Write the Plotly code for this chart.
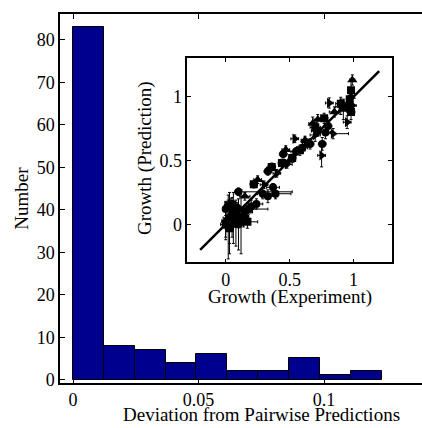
import plotly.graph_objects as go

# ---- histogram data ----
bin_left = [0.0, 0.01229, 0.02458, 0.03687, 0.04916, 0.06145, 0.07374, 0.08603, 0.09832, 0.11061]
bin_width = 0.01229
counts = [83, 8, 7, 4, 6, 2, 2, 5, 1, 2]
main_xticks = [0, 0.05, 0.1]
main_xticklabels = ["0", "0.05", "0.1"]
main_yticks = [0, 10, 20, 30, 40, 50, 60, 70, 80]

# ---- inset data: (experiment, prediction, x error +/-, y error) per marker type ----
circ_x = [0.00, 0.02, 0.05, 0.10, 0.03, 0.07, 0.12, 0.15, 0.18, 0.20, 0.24, 0.29, 0.33, 0.37, 0.39, 0.33, 0.45, 0.55, 0.60, 0.66, 0.755, 0.78, 0.80, 0.72, 0.95, 0.10, 0.02, 0.06, 0.14, 0.09]
circ_y = [0.12, 0.15, 0.16, 0.255, 0.05, 0.08, 0.02, 0.10, 0.12, 0.14, 0.16, 0.24, 0.22, 0.29, 0.24, 0.415, 0.55, 0.57, 0.60, 0.63, 0.63, 0.72, 0.77, 0.73, 0.93, 0.00, -0.02, 0.11, 0.06, 0.13]
circ_exp = [0.02, 0.03, 0.03, 0.42, 0.05, 0.04, 0.05, 0.06, 0.15, 0.04, 0.05, 0.04, 0.05, 0.05, 0.12, 0.03, 0.03, 0.04, 0.04, 0.03, 0.03, 0.04, 0.03, 0.05, 0.03, 0.03, 0.04, 0.03, 0.04, 0.03]
circ_exm = [0.02, 0.03, 0.03, 0.03, 0.05, 0.04, 0.05, 0.06, 0.04, 0.04, 0.05, 0.04, 0.05, 0.05, 0.03, 0.03, 0.03, 0.04, 0.04, 0.03, 0.03, 0.04, 0.03, 0.05, 0.03, 0.03, 0.04, 0.03, 0.04, 0.03]
circ_ey = [0.05, 0.04, 0.05, 0.03, 0.20, 0.10, 0.25, 0.05, 0.04, 0.05, 0.04, 0.04, 0.05, 0.03, 0.04, 0.03, 0.03, 0.03, 0.04, 0.04, 0.05, 0.05, 0.04, 0.04, 0.05, 0.20, 0.25, 0.05, 0.08, 0.04]

tri_x = [0.47, 0.35, 0.68, 0.99, 0.25, 0.15, 0.00, 0.06, 0.72, 0.85, 0.92, 0.50, 0.62, 0.98, 0.04]
tri_y = [0.585, 0.44, 0.79, 1.13, 0.35, 0.22, 0.03, 0.05, 0.82, 0.88, 0.90, 0.50, 0.66, 1.00, 0.08]
tri_exp = [0.03, 0.03, 0.03, 0.02, 0.03, 0.04, 0.03, 0.04, 0.03, 0.04, 0.03, 0.03, 0.03, 0.02, 0.04]
tri_exm = [0.03, 0.03, 0.03, 0.02, 0.03, 0.04, 0.03, 0.04, 0.03, 0.04, 0.03, 0.03, 0.03, 0.02, 0.04]
tri_ey = [0.03, 0.03, 0.05, 0.04, 0.03, 0.03, 0.15, 0.20, 0.04, 0.04, 0.08, 0.03, 0.03, 0.06, 0.12]

rtri_x = [0.54, 0.81, 0.95, 0.84, 0.75, 0.48, 0.40, 0.70, 0.30, 0.12, 0.90, 0.99, 0.63, 0.08]
rtri_y = [0.67, 0.95, 0.80, 0.71, 0.54, 0.47, 0.40, 0.70, 0.31, 0.06, 0.92, 0.93, 0.64, 0.01]
rtri_exp = [0.03, 0.03, 0.03, 0.12, 0.03, 0.04, 0.03, 0.04, 0.03, 0.06, 0.04, 0.03, 0.03, 0.05]
rtri_exm = [0.03, 0.03, 0.03, 0.04, 0.03, 0.04, 0.03, 0.04, 0.03, 0.06, 0.04, 0.03, 0.03, 0.05]
rtri_ey = [0.03, 0.04, 0.05, 0.04, 0.09, 0.03, 0.03, 0.05, 0.03, 0.05, 0.06, 0.05, 0.03, 0.18]

sq_x = [0.22, 0.36, 0.77, 0.90, 0.98, 0.98, 0.00, 0.05, 0.08, 0.58, 0.44, 0.70, 0.52, 0.17, 0.97, 0.03]
sq_y = [0.315, 0.45, 0.83, 0.945, 1.05, 0.88, 0.00, 0.02, 0.04, 0.58, 0.48, 0.76, 0.52, 0.02, 0.98, -0.03]
sq_exp = [0.03, 0.03, 0.03, 0.04, 0.02, 0.03, 0.04, 0.05, 0.04, 0.04, 0.03, 0.04, 0.03, 0.08, 0.02, 0.03]
sq_exm = [0.03, 0.03, 0.03, 0.04, 0.02, 0.03, 0.04, 0.05, 0.04, 0.04, 0.03, 0.04, 0.03, 0.08, 0.02, 0.03]
sq_ey = [0.03, 0.03, 0.04, 0.05, 0.07, 0.06, 0.10, 0.12, 0.06, 0.04, 0.03, 0.04, 0.03, 0.05, 0.05, 0.20]

line_x = [-0.2, 1.2]
line_y = [-0.2, 1.2]
inset_ticks = [0, 0.5, 1]
inset_ticklabels = ["0", "0.5", "1"]

FONT = "Liberation Serif, Times New Roman, serif"
FS = 18
FST = 19
BAR = "#00008F"

fig = go.Figure()

fig.add_trace(go.Bar(
    x=[b + bin_width / 2 for b in bin_left], y=counts, width=bin_width,
    marker=dict(color=BAR, line=dict(color="black", width=1)),
    xaxis="x", yaxis="y", showlegend=False, hoverinfo="skip"))

fig.add_trace(go.Scatter(
    x=line_x, y=line_y, mode="lines", line=dict(color="black", width=2.5),
    xaxis="x2", yaxis="y2", showlegend=False))

groups = [
    (circ_x, circ_y, circ_exp, circ_exm, circ_ey, "circle", 8),
    (tri_x, tri_y, tri_exp, tri_exm, tri_ey, "triangle-up", 9),
    (rtri_x, rtri_y, rtri_exp, rtri_exm, rtri_ey, "triangle-right", 9),
    (sq_x, sq_y, sq_exp, sq_exm, sq_ey, "square", 8),
]
for gx, gy, gexp, gexm, gey, sym, sz in groups:
    fig.add_trace(go.Scatter(
        x=gx, y=gy, mode="markers",
        marker=dict(symbol=sym, size=sz, color="black"),
        error_x=dict(type="data", array=gexp, arrayminus=gexm, color="black", thickness=1, width=1.5),
        error_y=dict(type="data", array=gey, color="black", thickness=1, width=1.5),
        xaxis="x2", yaxis="y2", showlegend=False))

tickfont = dict(family=FONT, size=FS, color="black")
fig.update_layout(
    width=422, height=428,
    margin=dict(l=60, r=0, t=14, b=45),
    paper_bgcolor="white", plot_bgcolor="white",
    bargap=0,
    xaxis=dict(domain=[0, 1], range=[-0.0052, 0.139], tickvals=main_xticks, ticktext=main_xticklabels,
               ticks="inside", ticklen=5, tickcolor="black", showline=True, linecolor="black", linewidth=1.5,
               mirror="ticks", showgrid=False, zeroline=False, tickfont=tickfont, automargin=False),
    yaxis=dict(domain=[0, 1], range=[-0.78, 86.1], tickvals=main_yticks,
               ticks="inside", ticklen=5, tickcolor="black", showline=True, linecolor="black", linewidth=1.5,
               showgrid=False, zeroline=False, tickfont=tickfont, automargin=False),
    xaxis2=dict(domain=[0.3517, 0.917], anchor="y2", range=[-0.3, 1.3], tickvals=inset_ticks, ticktext=inset_ticklabels,
                ticks="inside", ticklen=4, tickcolor="black", showline=True, linecolor="black", linewidth=1.5,
                mirror="ticks", showgrid=False, zeroline=False, tickfont=tickfont, automargin=False),
    yaxis2=dict(domain=[0.327, 0.880], anchor="x2", range=[-0.297, 1.30], tickvals=inset_ticks, ticktext=inset_ticklabels,
                ticks="inside", ticklen=4, tickcolor="black", showline=True, linecolor="black", linewidth=1.5,
                mirror="ticks", showgrid=False, zeroline=False, tickfont=tickfont, automargin=False),
    annotations=[
        dict(text="Number", xref="paper", yref="paper", x=-0.105, y=0.502, textangle=-90,
             showarrow=False, font=dict(family=FONT, size=FST, color="black"), xanchor="center", yanchor="middle"),
        dict(text="Deviation from Pairwise Predictions", xref="paper", yref="paper", x=0.558, y=-0.085,
             showarrow=False, font=dict(family=FONT, size=FST, color="black"), xanchor="center", yanchor="middle"),
        dict(text="Growth (Prediction)", xref="paper", yref="paper", x=0.235, y=0.61, textangle=-90,
             showarrow=False, font=dict(family=FONT, size=FST, color="black"), xanchor="center", yanchor="middle"),
        dict(text="Growth (Experiment)", xref="paper", yref="paper", x=0.634, y=0.232,
             showarrow=False, font=dict(family=FONT, size=FST, color="black"), xanchor="center", yanchor="middle"),
    ],
)

fig.write_html("out.html", config={"displayModeBar": False},
               post_script="document.body.style.margin='0';")
